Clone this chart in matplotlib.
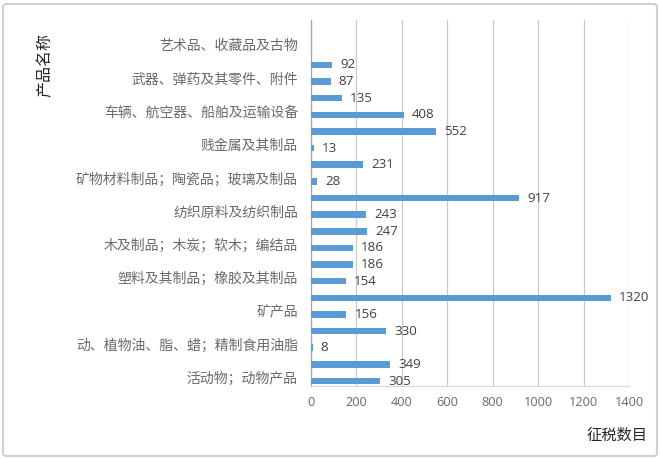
import numpy as np
import matplotlib
matplotlib.use("Agg")
import matplotlib.pyplot as plt
from matplotlib.patches import FancyBboxPatch

plt.rcParams['font.family'] = ['Noto Sans CJK SC', 'DejaVu Sans']

# categories bottom -> top (every other name is hidden on the axis, as in the original)
categories = [
    "活动物；动物产品",
    "植物产品",
    "动、植物油、脂、蜡；精制食用油脂",
    "食品；饮料、酒及醋；烟草及制品",
    "矿产品",
    "化学工业及其相关工业的产品",
    "塑料及其制品；橡胶及其制品",
    "生皮、皮革、毛皮及其制品",
    "木及制品；木炭；软木；编结品",
    "木浆；纸及纸板及其制品",
    "纺织原料及纺织制品",
    "鞋、帽、伞等；羽毛制品",
    "矿物材料制品；陶瓷品；玻璃及制品",
    "珠宝、贵金属及制品",
    "贱金属及其制品",
    "机器、机械器具、电气设备",
    "车辆、航空器、船舶及运输设备",
    "光学、医疗等仪器；钟表；乐器",
    "武器、弹药及其零件、附件",
    "杂项制品",
    "艺术品、收藏品及古物",
    "特殊交易品及未分类商品",
]
values = [305, 349, 8, 330, 156, 1320, 154, 186, 186, 247,
          243, 917, 28, 231, 13, 552, 408, 135, 87, 92, None, None]

bar_color = "#5B9BD5"
grid_color = "#c9c9c9"
tick_gray = "#6a6a6a"
label_gray = "#404040"
num_font = ["Open Sans", "DejaVu Sans"]

W, H = 660, 459
fig = plt.figure(figsize=(W / 100, H / 100), dpi=100)
ax = fig.add_axes([311 / W, 1 - 386 / H, (629 - 311) / W, (386 - 20) / H])

pos = np.arange(len(categories))
# excel style: first series sits in the lower half of each slot
bar_h = 0.39
offset = -0.2
for p, v in zip(pos, values):
    if v is None:
        continue
    ax.barh(p + offset, v, height=bar_h, color=bar_color, zorder=3)
    ax.annotate(str(v), (v, p + offset), xytext=(5.8, 0), textcoords="offset points",
                ha="left", va="center", fontsize=9.6, color=label_gray, family=num_font)

ax.set_xlim(0, 1400)
ax.set_ylim(-0.5, len(categories) - 0.5)
ax.set_xticks(np.arange(0, 1401, 200))
ax.set_xticklabels([str(t) for t in range(0, 1401, 200)],
                   family=num_font, fontsize=9.2, color=tick_gray)
ax.set_yticks(pos[::2])
ax.set_yticklabels(categories[::2], fontsize=10, color=tick_gray)
ax.tick_params(axis="x", length=0, pad=7.5)
ax.tick_params(axis="y", length=0, pad=9.4)

ax.grid(axis="x", color=grid_color, linewidth=0.9, zorder=0)
ax.grid(axis="y", visible=False)
for s in ["top", "right"]:
    ax.spines[s].set_visible(False)
ax.spines["bottom"].set_color("#d9d9d9")
ax.spines["bottom"].set_linewidth(0.9)
ax.spines["left"].set_color("#a6a6a6")
ax.spines["left"].set_linewidth(0.9)

fig.text(45 / W, 1 - 65 / H, "产品名称", rotation=90, ha="center", va="center",
         fontsize=11.5, color="#262626")
fig.text(648 / W, 1 - 435 / H, "征税数目", ha="right", va="center",
         fontsize=11, color="#262626")

border = FancyBboxPatch((3 / W, 3 / H), 654 / W, 452 / H,
                        boxstyle="round,pad=0,rounding_size=0.006",
                        transform=fig.transFigure, fill=False,
                        edgecolor="#d0d0d0", linewidth=1.5)
fig.patches.append(border)

fig.savefig("out.png", dpi=100)
